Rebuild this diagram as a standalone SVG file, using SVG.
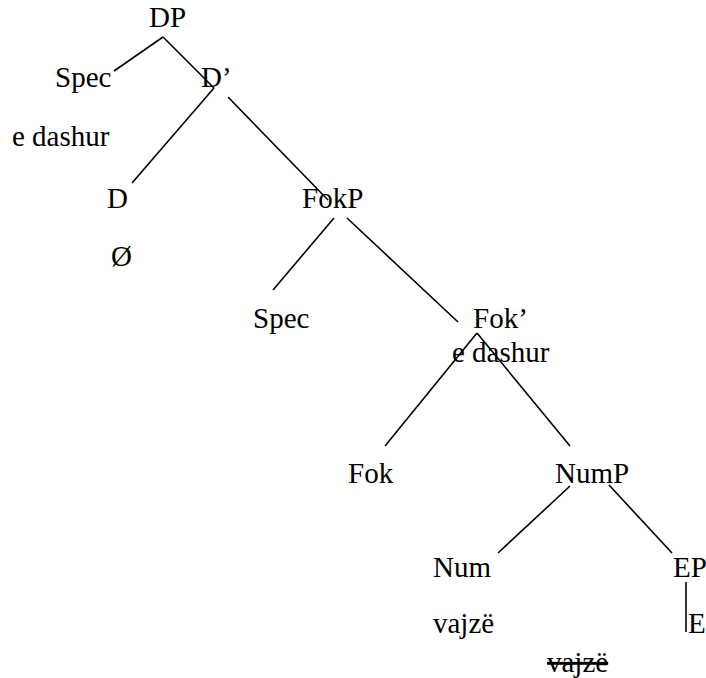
<svg xmlns="http://www.w3.org/2000/svg" width="706" height="678" viewBox="0 0 706 678">
<style>
text{font-family:"Liberation Serif","Times New Roman",serif;font-size:29px;fill:#000}
.e{stroke:#000;stroke-width:1.6;fill:none}
</style>
<rect width="706" height="678" fill="#fff"/>
<g id="connectors">
<line class="e" x1="163" y1="37" x2="114" y2="71"/>
<line class="e" x1="163" y1="37" x2="214" y2="88"/>
<line class="e" x1="214" y1="88" x2="132" y2="183"/>
<line class="e" x1="228" y1="97" x2="328" y2="200"/>
<line class="e" x1="334" y1="218" x2="273" y2="290"/>
<line class="e" x1="347" y1="218" x2="458" y2="322"/>
<line class="e" x1="477" y1="333" x2="385" y2="446"/>
<line class="e" x1="477" y1="333" x2="570" y2="446"/>
<line class="e" x1="570" y1="486" x2="498" y2="553"/>
<line class="e" x1="609" y1="485" x2="672" y2="553"/>
<line class="e" x1="686" y1="582" x2="686" y2="632"/>
</g>
<g id="n-DP"><text x="149" y="27">DP</text></g>
<g id="n-Spec1"><text x="55" y="87">Spec</text></g>
<g id="n-Dbar"><text x="201" y="87">D’</text></g>
<g id="n-edashur1"><text x="12" y="146">e dashur</text></g>
<g id="n-D"><text x="107" y="208">D</text></g>
<g id="n-null"><text x="111" y="266">Ø</text></g>
<g id="n-FokP"><text x="302" y="208">FokP</text></g>
<g id="n-Spec2"><text x="253" y="328">Spec</text></g>
<g id="n-Fokbar"><text x="473" y="328">Fok’</text></g>
<g id="n-edashur2"><text x="452" y="362">e dashur</text></g>
<g id="n-Fok"><text x="348" y="483">Fok</text></g>
<g id="n-NumP"><text x="555" y="483">NumP</text></g>
<g id="n-Num"><text x="433" y="577">Num</text></g>
<g id="n-EP"><text x="673" y="577">EP</text></g>
<g id="n-vajze1"><text x="433" y="633">vajzë</text></g>
<g id="n-E"><text x="688" y="633">E</text></g>
<g id="n-vajze2"><text x="547" y="672" text-decoration="line-through">vajzë</text></g>
</svg>
